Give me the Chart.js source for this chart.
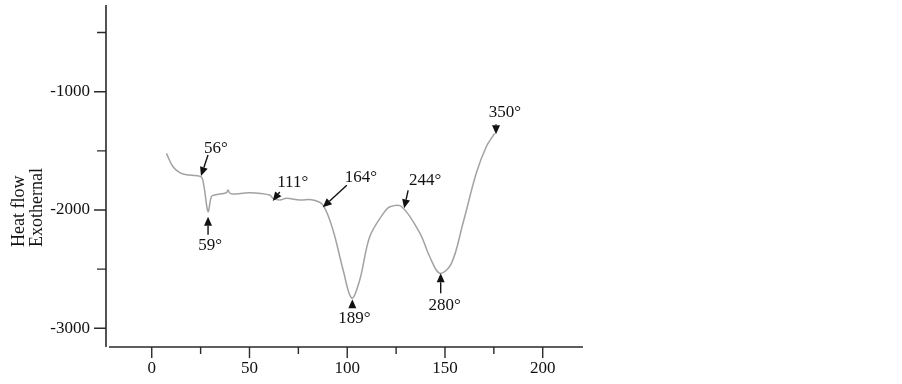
<!DOCTYPE html>
<html><head><meta charset="utf-8">
<script src="https://cdn.jsdelivr.net/npm/chart.js@4/dist/chart.umd.min.js"></script>
<style>html,body{margin:0;background:#fff}canvas{display:block}</style>
</head><body>
<canvas id="c" width="902" height="384"></canvas>
<script>
const el=id=>document.getElementById(id);
const SERIF='"Liberation Serif","DejaVu Serif",serif';

// DTA curve
const tempX=[7.5,10.9,16.0,25.1,26.6,28.8,30.5,32.2,38.2,39.0,39.9,41.6,50.1,60.4,62.0,65.5,68.9,75.7,82.5,87.6,92.7,97.9,102.3,106.4,111.5,118.5,121.9,127.9,137.1,142.2,147.3,153.3,159.2,166.0,171.1,175.4];
const heatY=[-1521,-1634,-1696,-1718,-1789,-2014,-1888,-1873,-1854,-1831,-1856,-1865,-1854,-1873,-1901,-1915,-1901,-1915,-1915,-1958,-2169,-2507,-2745,-2592,-2226,-2028,-1972,-1972,-2194,-2395,-2535,-2451,-2112,-1690,-1465,-1352];

const xTicks=[0,25,50,75,100,125,150,175,200];
const yTicks=[-3000,-2500,-2000,-1500,-1000,-500];
const yTitle=["Heat flow","Exothernal"];

// peak markers: label + where the arrow tip points
const annText=["56°","59°","111°","164°","189°","244°","280°","350°"];
const annX=[25.2,28.8,61.9,87.5,102.6,129.1,147.8,176.1];
const annY=[-1713,-2057,-1924,-1977,-2755,-1986,-2535,-1360];
// pixel offsets from the tip: arrow tail, label centre
const annTail=[[7,-21],[0,18],[7,-9],[24,-22],[0,8],[4,-18],[0,20],[0,-10]];
const annLab=[[15,-28],[2,29],[20,-18],[38,-30],[2,19],[21,-28],[4,32],[9,-22]];

const axesPlugin={id:"axes",
  afterDraw(ch){
    const {ctx,chartArea:a,scales:{x,y}}=ch;
    ctx.save();
    ctx.strokeStyle="#2a2a2a";ctx.lineWidth=1.6;
    ctx.beginPath();ctx.moveTo(a.left,a.top);ctx.lineTo(a.left,a.bottom);
    ctx.moveTo(a.left+3,a.bottom);ctx.lineTo(a.right,a.bottom);ctx.stroke();
    ctx.lineWidth=1.4;ctx.beginPath();
    yTicks.forEach(v=>{const p=y.getPixelForValue(v),l=v%1000===0?12:9;ctx.moveTo(a.left-l,p);ctx.lineTo(a.left,p);});
    xTicks.forEach(v=>{const p=x.getPixelForValue(v),l=v%50===0?11:7;ctx.moveTo(p,a.bottom);ctx.lineTo(p,a.bottom+l);});
    ctx.stroke();
    // y title, two rotated lines
    ctx.fillStyle="#111";ctx.font="18px "+SERIF;ctx.textAlign="left";ctx.textBaseline="alphabetic";
    [[23.5,yTitle[0]],[41.5,yTitle[1]]].forEach(([tx,t])=>{
      ctx.save();ctx.translate(tx,247);ctx.rotate(-Math.PI/2);ctx.fillText(t,0,0);ctx.restore();});
    // arrows + labels
    ctx.font="17px "+SERIF;ctx.textAlign="center";ctx.textBaseline="middle";
    ctx.strokeStyle="#111";ctx.lineWidth=1.4;
    annText.forEach((t,i)=>{
      const px=x.getPixelForValue(annX[i]),py=y.getPixelForValue(annY[i]);
      const tx=px+annTail[i][0],ty=py+annTail[i][1];
      const d=Math.hypot(tx-px,ty-py),ux=(tx-px)/d,uy=(ty-py)/d,L=9,W=4;
      const bx=px+ux*L,by=py+uy*L;
      if(d>L){ctx.beginPath();ctx.moveTo(tx,ty);ctx.lineTo(bx,by);ctx.stroke();}
      ctx.beginPath();ctx.moveTo(px,py);ctx.lineTo(bx-uy*W,by+ux*W);ctx.lineTo(bx+uy*W,by-ux*W);ctx.closePath();ctx.fill();
      ctx.fillText(t,px+annLab[i][0],py+annLab[i][1]);
    });
    ctx.restore();
  }};

const noPad=s=>{s.paddingTop=0;s.paddingBottom=0;s.paddingLeft=0;s.paddingRight=0;};

new Chart(el("c"),{type:"line",
  data:{datasets:[{data:tempX.map((v,i)=>({x:v,y:heatY[i]})),borderColor:"#a2a2a2",borderWidth:1.5,
    pointRadius:0,tension:0.35,fill:false}]},
  options:{responsive:false,animation:false,
    layout:{padding:{top:5,right:319,left:0,bottom:0}},
    plugins:{legend:{display:false},tooltip:{enabled:false}},
    scales:{
      x:{type:"linear",min:-23.4,max:220.6,grid:{display:false,drawTicks:false},border:{display:false},
        afterBuildTicks:s=>{s.ticks=xTicks.map(v=>({value:v}));},
        afterFit:s=>{s.height=37;noPad(s);},
        ticks:{autoSkip:false,maxRotation:0,padding:11,color:"#111",font:{family:SERIF,size:17},
          callback:v=>v%50===0?String(v):""}},
      y:{min:-3158,max:-267,grid:{display:false,drawTicks:false},border:{display:false},
        afterBuildTicks:s=>{s.ticks=yTicks.map(v=>({value:v}));},
        afterFit:s=>{s.width=106;noPad(s);},
        ticks:{autoSkip:false,padding:16,color:"#111",font:{family:SERIF,size:17},
          callback:v=>v%1000===0?String(v):""}}}},
  plugins:[axesPlugin]});
</script></body></html>
